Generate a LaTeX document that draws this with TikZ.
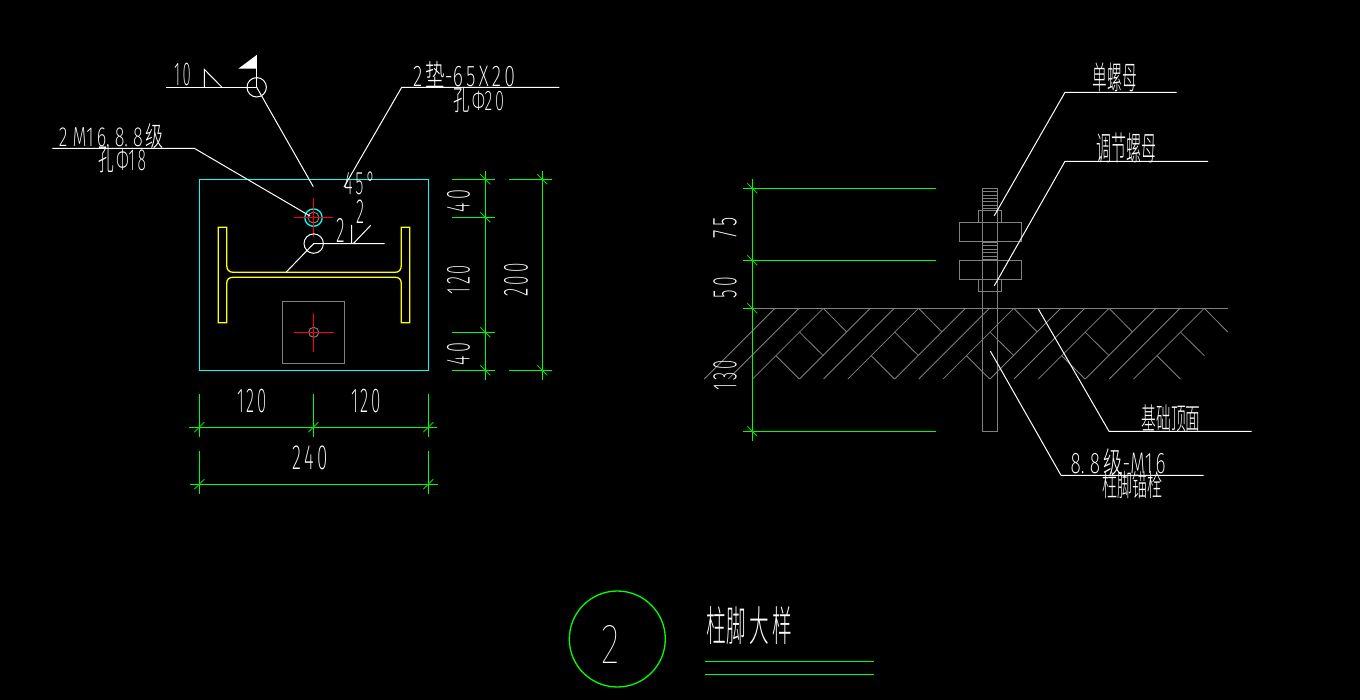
\documentclass[tikz,border=0pt]{standalone}
\usepackage{fontspec}
\usepackage{graphicx}
\setmainfont{Fira Sans ExtraLight}
\newfontfamily\thin{Fira Sans Thin}
\newfontfamily\cjk{Noto Sans CJK SC Light}
\definecolor{cgray}{HTML}{808080}
\definecolor{ccyan}{HTML}{00FFFF}
\definecolor{cgreen}{HTML}{00FF00}
\definecolor{cyellow}{HTML}{FFFF00}
\definecolor{cred}{HTML}{FF0000}
\newcommand{\lab}[6]{%
  \pgfmathsetmacro{\lx}{(#2+#4)/2}\pgfmathsetmacro{\ly}{(#3+#5)/2}%
  \pgfmathsetmacro{\lw}{#4-#2}\pgfmathsetmacro{\lh}{#5-#3}%
  \node[txt] (#1) at (\lx,\ly) {\resizebox*{\lw pt}{\lh pt}{#6}};}
\newcommand{\rlab}[6]{%
  \pgfmathsetmacro{\lx}{(#2+#4)/2}\pgfmathsetmacro{\ly}{(#3+#5)/2}%
  \pgfmathsetmacro{\lw}{#4-#2}\pgfmathsetmacro{\lh}{#5-#3}%
  \node[txt,rotate=90] (#1) at (\lx,\ly) {\resizebox*{\lh pt}{\lw pt}{#6}};}
\tikzset{
  txt/.style={inner sep=0pt,outer sep=0pt,text=white},
  ln/.style={draw=white,line width=1pt},
  leader/.style={draw=white,line width=1pt,line join=round},
  gr/.style={draw=cgray,line width=1pt},
  hatchline/.style={draw=cgray,line width=.8pt},
  dimline/.style={draw=cgreen,line width=1.3pt},
  tickline/.style={draw=cgreen!85!black,line width=.9pt},
  cy/.style={draw=ccyan,line width=1.3pt},
  yel/.style={draw=cyellow,line width=1.3pt},
  rd/.style={draw=cred,line width=1.2pt}
}
\begin{document}
\begin{tikzpicture}[x=1pt,y=-1pt]
\fill[black] (0,0) rectangle (1360,700);
\useasboundingbox (0,0) rectangle (1360,700);
% ---- plan: plate
\draw[cy] (199.3,179.3) rectangle (428.3,370.3);
% I section
\draw[yel] (226.7,265) -- (226.7,227.3) -- (218.3,227.3) -- (218.3,322.7) -- (226.7,322.7) -- (226.7,284)
  .. controls (226.7,279) and (229,277.3) .. (233.3,277.3) -- (395,277.3)
  .. controls (399,277.3) and (401.3,279) .. (401.3,284) -- (401.3,322.7) -- (409.7,322.7) -- (409.7,227.3) -- (401.3,227.3) -- (401.3,265)
  .. controls (401.3,270) and (399,272.3) .. (395,272.3) -- (233.3,272.3)
  .. controls (229,272.3) and (226.7,270) .. (226.7,265);
% lower square
\draw[gr] (282.3,301.3) rectangle (344.7,363.3);
\draw[gr] (313.7,332.3) circle (5);
\draw[rd] (294,332.3) -- (334,332.3) (313.7,313) -- (313.7,352);
% upper hole
\draw[cy] (313.5,217.6) circle (8.7);
\draw[gr] (313.5,217.6) circle (5.5);
\draw[rd] (294,217.6) -- (333,217.6) (313.5,198) -- (313.5,237);
% lower hole and weld mark
\coordinate (holeB) at (313.7,243.6);
\coordinate (webPt) at (286,272.3);
\draw[ln] (holeB) circle (9.7);
\draw[leader] (webPt) -- (holeB) -- (384.7,243.6);
\draw[ln] (351.7,225) -- (351.7,243.6) (353.3,243.6) -- (370.7,225.3);
\lab{wa}{336}{219}{344.5}{243}{2}
\lab{wb}{356}{200}{364}{223.5}{2}
% top weld symbol
\coordinate (flagO) at (256.7,87.3);
\coordinate (flagEnd) at (313.3,186.7);
\draw[ln] (166,87.3) -- (flagO) -- (256.7,55);
\draw[ln] (flagO) circle (9.7);
\fill[white] (256.7,55) -- (238.3,68.7) -- (256.7,68.7) -- cycle;
\draw[ln] (204.3,87.3) -- (204.3,69.3) -- (222,87.3);
\draw[leader] (flagO) -- (flagEnd);
\lab{ten}{174}{63.3}{190.7}{86}{1\,0}
% bolt callout
\coordinate (boltA) at (52.3,148.3);
\coordinate (boltB) at (194.3,148.3);
\coordinate (boltC) at (310,216);
\draw[leader] (boltA) -- (boltB) -- (boltC);
\lab{boltt}{59}{124}{164}{149}{2\;M1\,6.\;8.\;8\,{\cjk 级}}
\lab{boltb}{98}{146}{146}{173}{{\cjk 孔}\,Φ1\,8}
% pad callout
\coordinate (padA) at (559.3,87.3);
\coordinate (padB) at (401.7,87.3);
\coordinate (padC) at (344,187);
\draw[leader] (padA) -- (padB) -- (padC);
\lab{padt}{413}{62}{515}{88}{2\,{\cjk 垫}-6\,5\,X\,2\,0}
\lab{padb}{453}{88}{504}{113}{{\cjk 孔}\,Φ2\,0}
\lab{angle}{344}{172}{375}{195}{4\,5\,°}
% plan dims: right
\draw[dimline] (485.3,171) -- (485.3,380) (542.3,171) -- (542.3,380);
\foreach \yy in {179.3,217.3,332.3,370.3} {
  \draw[dimline] (452,\yy) -- (495,\yy);
  \draw[tickline] (480.3,\yy-5) -- (490.3,\yy+5);
}
\foreach \yy in {179.3,370.3} {
  \draw[dimline] (509,\yy) -- (552,\yy);
  \draw[tickline] (537.3,\yy-5) -- (547.3,\yy+5);
}
\rlab{da}{447}{190}{470}{212.3}{4\,0}
\rlab{db}{447}{265}{470}{294.3}{1\,2\,0}
\rlab{dc}{447}{342.7}{470}{365}{4\,0}
\rlab{dd}{504}{263.3}{528}{296}{2\,0\,0}
% plan dims: bottom
\draw[dimline] (189,427.3) -- (437,427.3) (190,484.3) -- (438,484.3);
\foreach \xx in {199.3,313.3,428.3} {
  \draw[dimline] (\xx,394) -- (\xx,436.7);
  \draw[tickline] (\xx-5,432.3) -- (\xx+5,422.3);
}
\foreach \xx in {199.3,428.3} {
  \draw[dimline] (\xx,451) -- (\xx,494);
  \draw[tickline] (\xx-5,489.3) -- (\xx+5,479.3);
}
\lab{de}{237.3}{389}{266.7}{412.7}{1\,2\,0}
\lab{df}{351}{389}{381}{412.7}{1\,2\,0}
\lab{dg}{292.3}{446}{327.3}{470}{2\,4\,0}
% ---- elevation: hatch
\foreach \k in {0,...,4} {
  \pgfmathsetmacro{\dx}{\k*95.25}
  \foreach \tx in {775,799,823.3}
    \draw[hatchline] ({\tx+\dx},308.3) -- ({\tx+\dx-70.7},379);
  \draw[hatchline] ({823.3+\dx},308.3) -- ({846.7+\dx},332);
  \draw[hatchline] ({799.3+\dx},332) -- ({823.3+\dx},355.7);
  \draw[hatchline] ({776+\dx},355.7) -- ({799.3+\dx},379);
}
\draw[gr] (752.3,308.3) -- (1227.7,308.3);
% bolt
\draw[gr] (982.3,431.3) -- (982.3,188.3) -- (997.7,188.3) -- (997.7,431.3) -- cycle;
\foreach \n in {0,...,6}
  \draw[gr,line width=.8pt] (982.3,188.3+\n*3.4) -- (997.7,188.3+\n*3.4);
\foreach \n in {0,...,5}
  \draw[gr,line width=.8pt] (982.3,242.5+\n*3.4) -- (997.7,242.5+\n*3.4);
\draw[gr] (978.3,222.3) -- (978.3,210.3) -- (1001.7,210.3) -- (1001.7,222.3);
\draw[gr] (959.3,222.3) rectangle (1021.7,241.7);
\draw[gr] (959.3,260.3) rectangle (1021.7,279.7);
\draw[gr] (978.3,279.7) -- (978.3,291.7) -- (1001.7,291.7) -- (1001.7,279.7);
% elevation dims
\draw[dimline] (752.3,179.3) -- (752.3,440.7);
\foreach \yy in {188.3,260.3,431.3}
  \draw[dimline] (743.3,\yy) -- (935.7,\yy);
\draw[dimline] (743.3,308.3) -- (752.3,308.3);
\foreach \yy in {188.3,260.3,308.3,431.3}
  \draw[tickline] (747.3,\yy-5) -- (757.3,\yy+5);
\rlab{ea}{713.3}{217.7}{736.7}{238.3}{7\,5}
\rlab{eb}{713.3}{277}{736.7}{298}{5\,0}
\rlab{ec}{713.3}{360}{736.7}{390}{1\,3\,0}
% elevation callouts
\coordinate (nutA) at (1176.7,92.3);
\coordinate (nutB) at (1065,92.3);
\coordinate (nutC) at (994.3,215.7);
\draw[leader] (nutA) -- (nutB) -- (nutC);
\lab{nut}{1092.7}{63}{1136.7}{92}{\cjk 单螺母}
\coordinate (adjA) at (1208,161.3);
\coordinate (adjB) at (1065,161.3);
\coordinate (adjC) at (994.3,285.7);
\draw[leader] (adjA) -- (adjB) -- (adjC);
\lab{adj}{1096.7}{133}{1156.7}{163}{\cjk 调节螺母}
\coordinate (topA) at (1251.7,431.3);
\coordinate (topB) at (1109,431.3);
\coordinate (topC) at (1038.3,309);
\draw[leader] (topA) -- (topB) -- (topC);
\lab{topface}{1141.7}{405}{1200.7}{432}{\cjk 基础顶面}
\coordinate (ancA) at (1203.7,475.3);
\coordinate (ancB) at (1061,475.3);
\coordinate (ancC) at (990.3,351);
\draw[leader] (ancA) -- (ancB) -- (ancC);
\lab{anca}{1070.7}{449}{1165.7}{476}{8.\;8\,{\cjk 级}-M1\,6}
\lab{ancb}{1102.7}{471.7}{1162.7}{499}{\cjk 柱脚锚栓}
% title
\node[draw=cgreen,line width=1.3pt,circle,minimum size=96pt,inner sep=0pt] (mark) at (617.3,639) {};
\lab{num}{601}{625}{619}{663}{\thin 2}
\lab{title}{706.7}{607}{791.7}{645}{\cjk 柱脚\,大\,样}
\draw[dimline] (705,661.3) -- (874,661.3) (705,674.7) -- (874,674.7);
\end{tikzpicture}
\end{document}
